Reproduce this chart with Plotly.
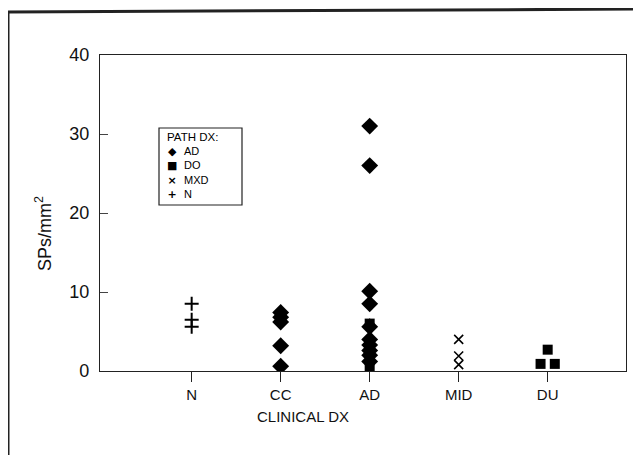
import plotly.graph_objects as go

categories = ["N", "CC", "AD", "MID", "DU"]
cat_pos = {c: i + 1 for i, c in enumerate(categories)}

# PATH DX: AD (diamonds)
ad_cat = ["CC", "CC", "CC", "CC", "CC",
          "AD", "AD", "AD", "AD", "AD", "AD", "AD", "AD", "AD", "AD"]
ad_val = [7.4, 6.8, 6.2, 3.2, 0.6,
          31.0, 26.0, 10.1, 8.5, 5.6, 4.0, 3.3, 2.6, 2.0, 1.2]
ad_off = [0] * len(ad_cat)

# PATH DX: DO (squares)
do_cat = ["AD", "AD", "DU", "DU", "DU"]
do_val = [6.0, 0.6, 2.7, 0.9, 0.9]
do_off = [0, 0, 0.0, -0.08, 0.08]

# PATH DX: MXD (x)
mxd_cat = ["MID", "MID", "MID"]
mxd_val = [4.0, 1.9, 0.8]
mxd_off = [0, 0, 0]

# PATH DX: N (+)
n_cat = ["N", "N", "N"]
n_val = [8.5, 6.5, 5.6]
n_off = [0, 0, 0]

y_ticks = [0, 10, 20, 30, 40]
legend_labels = ["AD", "DO", "MXD", "N"]
legend_glyphs = ["\u25C6", "\u25A0", "\u00D7", "+"]


def xs(cats, offs):
    return [cat_pos[c] + o for c, o in zip(cats, offs)]


# page-pixel -> paper helpers (body has 8px margin in the page)
PL, PR, PT, PB = 100, 626, 55, 371


def px(x):
    return (x - PL) / (PR - PL)


def py(y):
    return (PB - y) / (PB - PT)


fig = go.Figure()
fig.add_trace(go.Scatter(x=xs(ad_cat, ad_off), y=ad_val, mode="markers", name="AD",
                         marker=dict(symbol="diamond", size=13, color="black")))
fig.add_trace(go.Scatter(x=xs(do_cat, do_off), y=do_val, mode="markers", name="DO",
                         marker=dict(symbol="square", size=10, color="black")))
fig.add_trace(go.Scatter(x=xs(mxd_cat, mxd_off), y=mxd_val, mode="markers", name="MXD",
                         marker=dict(symbol="x-thin", size=9, color="black",
                                     line=dict(width=1.6, color="black"))))
fig.add_trace(go.Scatter(x=xs(n_cat, n_off), y=n_val, mode="markers", name="N",
                         marker=dict(symbol="cross-thin", size=10, color="black",
                                     line=dict(width=2, color="black"))))

font = "Liberation Sans, Arial, sans-serif"

annotations = [
    dict(text="CLINICAL DX", x=px(303), y=py(416), xref="paper", yref="paper",
         showarrow=False, font=dict(size=15, family=font, color="#111"),
         xanchor="center", yanchor="middle"),
    dict(text="SPs/mm<sup>2</sup>", x=px(43), y=py(234), xref="paper", yref="paper",
         showarrow=False, textangle=-90, font=dict(size=18, family=font, color="#111"),
         xanchor="center", yanchor="middle"),
    dict(text="PATH DX:", x=px(165), y=py(137), xref="paper", yref="paper",
         showarrow=False, font=dict(size=11.5, family=font, color="#000"),
         xanchor="left", yanchor="middle"),
    dict(text="<br>".join("<b>" + g + "</b>" for g in legend_glyphs),
         x=px(172), y=py(143), xref="paper", yref="paper", showarrow=False,
         font=dict(size=11, family="DejaVu Sans", color="#000"), align="center",
         xanchor="center", yanchor="top"),
    dict(text="<br>".join(legend_labels),
         x=px(182), y=py(143), xref="paper", yref="paper", showarrow=False,
         font=dict(size=11, family=font, color="#000"), align="left",
         xanchor="left", yanchor="top"),
]

fig.update_layout(
    width=633, height=447,
    margin=dict(l=PL - 8, r=633 - (PR - 8), t=PT - 8, b=447 - (PB - 8)),
    paper_bgcolor="white", plot_bgcolor="white",
    font=dict(family=font, color="#111", size=15),
    showlegend=False,
    xaxis=dict(
        range=[-0.03, 5.88], tickvals=[1, 2, 3, 4, 5], ticktext=categories,
        showgrid=False, zeroline=False, showline=True, linecolor="#222",
        linewidth=1.3, mirror=True, ticks="outside", ticklen=10, tickwidth=1.3,
        tickcolor="#222", tickfont=dict(size=15, family=font),
    ),
    yaxis=dict(
        range=[0, 40], tickvals=y_ticks, showgrid=False, zeroline=False,
        showline=True, linecolor="#222", linewidth=1.3, mirror=True,
        ticks="inside", ticklen=8, tickwidth=1, tickcolor="#444",
        tickfont=dict(size=18, family=font), ticklabelstandoff=6,
    ),
    annotations=annotations,
    shapes=[
        dict(type="rect", xref="paper", yref="paper", x0=px(159), x1=px(242),
             y0=py(128), y1=py(205), line=dict(color="#222", width=1.2),
             fillcolor="rgba(0,0,0,0)"),
        dict(type="line", xref="paper", yref="paper", x0=px(8), x1=px(8),
             y0=py(12), y1=py(460), line=dict(color="#222", width=3)),
        dict(type="line", xref="paper", yref="paper", x0=px(8), x1=px(645),
             y0=py(12), y1=py(9), line=dict(color="#222", width=3)),
        dict(type="line", xref="paper", yref="paper", x0=px(640), x1=px(640),
             y0=py(9), y1=py(170), line=dict(color="#666", width=1)),
    ],
)

fig.write_html("out.html")
